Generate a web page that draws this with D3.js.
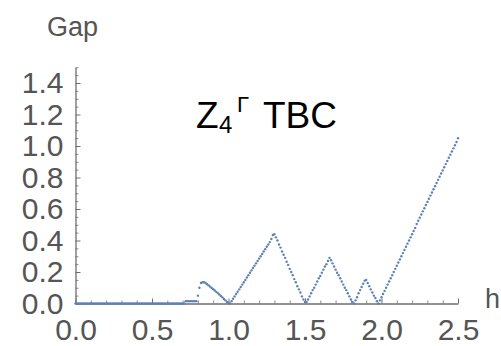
<!DOCTYPE html>
<html><head><meta charset="utf-8">
<script src="https://cdn.jsdelivr.net/npm/d3@7"></script>
<style>body{margin:0;background:#fff} svg{display:block}</style>
</head><body>
<script>
// sampling of h
const hStart = 0, hStep = 0.01;
// Gap values, one per h sample (h = 0.00 ... 2.50)
const gapValues = [
  0,0,0,0,0,0,0,0,0,0,                                   // 0.00-0.09
  0,0,0,0,0,0,0,0,0,0,                                   // 0.10-0.19
  0,0,0,0,0,0,0,0,0,0,                                   // 0.20-0.29
  0,0,0,0,0,0,0,0,0,0,                                   // 0.30-0.39
  0,0,0,0,0,0,0,0,0,0,                                   // 0.40-0.49
  0,0,0,0,0,0,0,0,0,0,                                   // 0.50-0.59
  0,0,0,0,0,0,0,0,0,0,                                   // 0.60-0.69
  0,0,0.015,0.015,0.015,0.015,0.015,0.015,0.015,0.015,   // 0.70-0.79
  0.05,0.10,0.13,0.135,0.135,0.13,0.122,0.115,0.107,0.099, // 0.80-0.89
  0.091,0.083,0.074,0.066,0.057,0.048,0.039,0.029,0.02,0.01, // 0.90-0.99
  0.003,0,0.015,0.03,0.045,0.06,0.075,0.09,0.105,0.12,   // 1.00-1.09
  0.135,0.15,0.165,0.18,0.195,0.21,0.225,0.24,0.255,0.27, // 1.10-1.19
  0.285,0.30,0.315,0.33,0.345,0.36,0.375,0.39,0.41,0.435, // 1.20-1.29
  0.44,0.42,0.40,0.375,0.355,0.33,0.31,0.29,0.265,0.245, // 1.30-1.39
  0.22,0.20,0.18,0.155,0.135,0.11,0.09,0.07,0.045,0.025, // 1.40-1.49
  0.01,0.01,0.025,0.045,0.065,0.085,0.10,0.12,0.14,0.16, // 1.50-1.59
  0.175,0.195,0.215,0.235,0.25,0.27,0.29,0.275,0.255,0.235, // 1.60-1.69
  0.215,0.195,0.18,0.16,0.14,0.12,0.10,0.085,0.065,0.045, // 1.70-1.79
  0.025,0.01,0,0.02,0.04,0.065,0.085,0.105,0.125,0.145,  // 1.80-1.89
  0.15,0.13,0.11,0.09,0.07,0.05,0.035,0.015,0,0.02,      // 1.90-1.99
  0.04,0.06,0.08,0.10,0.12,0.14,0.16,0.18,0.20,0.22,     // 2.00-2.09
  0.24,0.26,0.28,0.30,0.32,0.34,0.36,0.38,0.40,0.42,     // 2.10-2.19
  0.44,0.46,0.48,0.505,0.525,0.545,0.565,0.585,0.605,0.625, // 2.20-2.29
  0.645,0.665,0.685,0.705,0.725,0.745,0.765,0.785,0.805,0.825, // 2.30-2.39
  0.845,0.865,0.885,0.905,0.925,0.945,0.965,0.985,1.005,1.025, // 2.40-2.49
  1.05                                                    // 2.50
];
const xTickValues = [0, 0.5, 1.0, 1.5, 2.0, 2.5];
const xTickLabels = ["0.0", "0.5", "1.0", "1.5", "2.0", "2.5"];
const yTickValues = [0, 0.2, 0.4, 0.6, 0.8, 1.0, 1.2, 1.4];
const yTickLabels = ["0.0", "0.2", "0.4", "0.6", "0.8", "1.0", "1.2", "1.4"];
const xLabel = "h", yLabel = "Gap";

const W = 501, H = 346;
const svg = d3.select("body").append("svg").attr("width", W).attr("height", H)
  .style("background", "#fff");

const x = d3.scaleLinear().domain([0, 2.5]).range([75.5, 458]);
const y = d3.scaleLinear().domain([0, 1.5]).range([303.5, 67.25]);

const axisColor = "#6e6e6e", labelColor = "#555555";
const font = "'Liberation Sans', Arial, Helvetica, sans-serif";

// minor ticks
const xMinor = d3.range(0, 26).map(i => i / 10).filter(v => !xTickValues.some(t => Math.abs(t - v) < 1e-9));
const yMinor = d3.range(0, 31).map(i => i / 20).filter(v => !yTickValues.some(t => Math.abs(t - v) < 1e-9));

const gxMinor = svg.append("g").attr("transform", `translate(0,${y(0)})`)
  .call(d3.axisBottom(x).tickValues(xMinor).tickSizeInner(-3).tickSizeOuter(0).tickFormat(""));
gxMinor.select(".domain").remove();
gxMinor.selectAll("line").attr("stroke", "#8c8c8c");

const gyMinor = svg.append("g").attr("transform", `translate(${x(0)},0)`)
  .call(d3.axisLeft(y).tickValues(yMinor).tickSizeInner(-3).tickSizeOuter(0).tickFormat(""));
gyMinor.select(".domain").remove();
gyMinor.selectAll("line").attr("stroke", "#8c8c8c");

// major axes
const gx = svg.append("g").attr("transform", `translate(0,${y(0)})`)
  .call(d3.axisBottom(x).tickValues(xTickValues).tickSizeInner(-5).tickSizeOuter(0)
    .tickPadding(15).tickFormat((d, i) => xTickLabels[i]));
gx.select(".domain").attr("stroke", axisColor).attr("stroke-width", 1.3);
gx.selectAll("line").attr("stroke", axisColor);
gx.selectAll("text").attr("fill", labelColor).style("font-family", font).style("font-size", "30px");

const gy = svg.append("g").attr("transform", `translate(${x(0)},0)`)
  .call(d3.axisLeft(y).tickValues(yTickValues).tickSizeInner(-5).tickSizeOuter(0)
    .tickPadding(12).tickFormat((d, i) => yTickLabels[i]));
gy.select(".domain").attr("stroke", axisColor).attr("stroke-width", 1.3);
gy.selectAll("line").attr("stroke", axisColor);
gy.selectAll("text").attr("fill", labelColor).style("font-family", font).style("font-size", "30px");

// axis labels
svg.append("text").attr("x", 47).attr("y", 36).text(yLabel)
  .attr("fill", labelColor).style("font-family", font).style("font-size", "27px");
svg.append("text").attr("x", 485).attr("y", 308).text(xLabel)
  .attr("fill", labelColor).style("font-family", font).style("font-size", "27px");

// title  Z_4^Γ TBC
const title = svg.append("text").attr("fill", "#000").style("font-family", font);
title.append("tspan").attr("x", 196).attr("y", 128).style("font-size", "37px").text("Z");
title.append("tspan").attr("x", 219).attr("y", 133).style("font-size", "24px").text("4");
title.append("tspan").attr("x", 237).attr("y", 112).style("font-size", "22px").text("Γ");
title.append("tspan").attr("x", 263).attr("y", 128).style("font-size", "37px").text("TBC");

// points
const pts = gapValues.map((g, i) => ({ h: hStart + i * hStep, g }));
svg.append("g").selectAll("circle").data(pts).join("circle")
  .attr("cx", d => x(d.h)).attr("cy", d => y(d.g)).attr("r", 1.2)
  .attr("fill", "#5E81B5");
</script>
</body></html>
